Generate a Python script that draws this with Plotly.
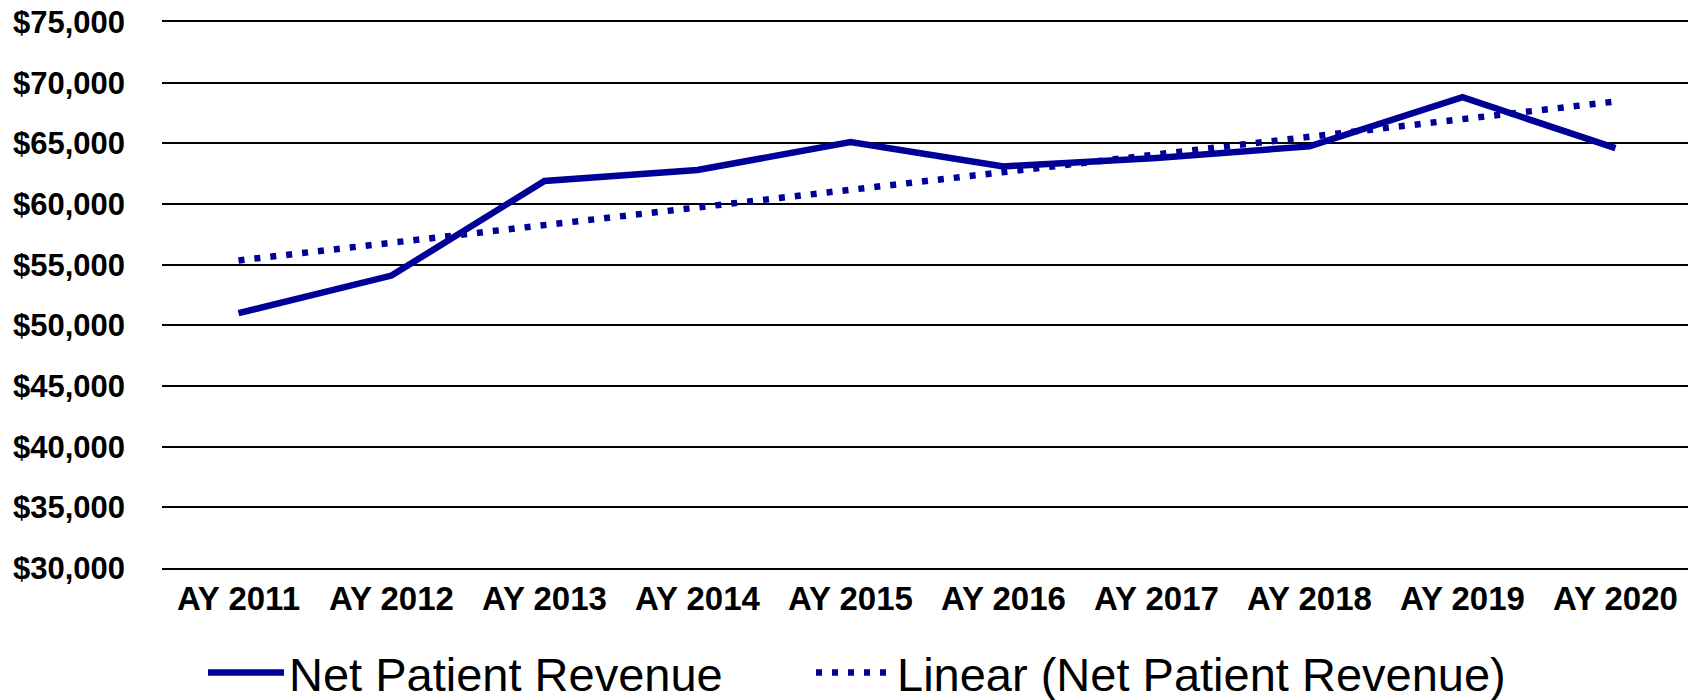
import plotly.graph_objects as go

years = ["AY 2011", "AY 2012", "AY 2013", "AY 2014", "AY 2015",
         "AY 2016", "AY 2017", "AY 2018", "AY 2019", "AY 2020"]
revenue = [51000, 54100, 61900, 62800, 65100, 63100, 63800, 64750, 68800, 64600]

# linear trendline, read at its two ends
trend_years = ["AY 2011", "AY 2020"]
trend_values = [55350, 68450]

blue = "#000099"
font_family = "Liberation Sans, Arial, sans-serif"
legend_font = dict(size=47, family=font_family, color="black")

fig = go.Figure()
fig.add_trace(go.Scatter(x=years, y=revenue, mode="lines", name="Net Patient Revenue",
                         line=dict(color=blue, width=6.5), legend="legend"))
fig.add_trace(go.Scatter(x=trend_years, y=trend_values, mode="lines",
                         name="Linear (Net Patient Revenue)",
                         line=dict(color=blue, width=6.5, dash="6px,10px"),
                         legend="legend2"))

fig.update_layout(
    width=1696, height=700,
    margin=dict(l=154, r=12, t=14, b=140, autoexpand=False),
    plot_bgcolor="white", paper_bgcolor="white",
    font=dict(family=font_family, color="black"),
    showlegend=True,
    legend=dict(orientation="h", xref="container", yref="container",
                x=195 / 1696, xanchor="left", y=0.05, yanchor="middle",
                font=legend_font, itemwidth=76),
    legend2=dict(orientation="h", xref="container", yref="container",
                 x=803 / 1696, xanchor="left", y=0.05, yanchor="middle",
                 font=legend_font, itemwidth=76),
)
fig.update_xaxes(type="category", range=[-0.5, 9.5],
                 showgrid=False, ticks="",
                 showline=True, mirror=True, linecolor="black", linewidth=2,
                 tickfont=dict(size=33, family=font_family, color="black", weight="bold"),
                 ticklabelstandoff=0)
fig.update_yaxes(range=[30000, 75000], dtick=5000, tickprefix="$", tickformat=",d",
                 showgrid=True, gridcolor="black", gridwidth=2,
                 zeroline=False, showline=False, ticks="",
                 ticklabeloverflow="allow",
                 tickfont=dict(size=31, family=font_family, color="black", weight="bold"),
                 ticklabelstandoff=36)

fig.write_html("out.html")
